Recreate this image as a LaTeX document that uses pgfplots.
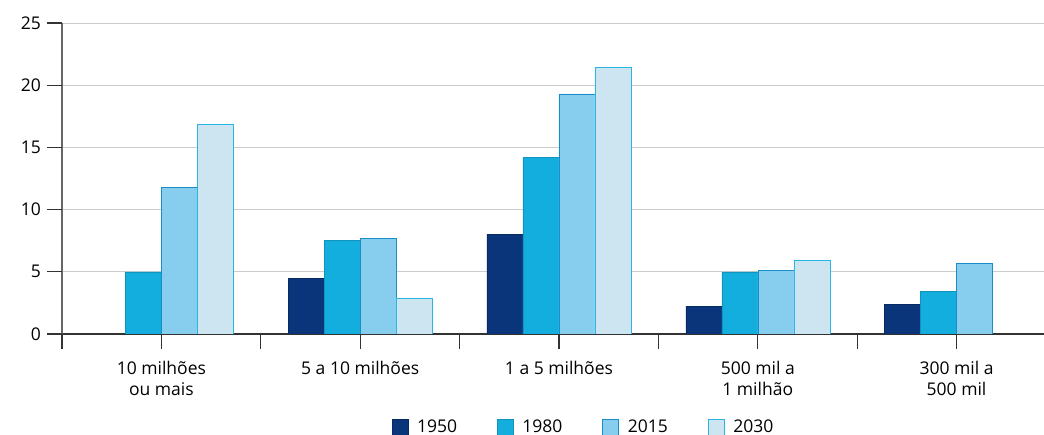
\documentclass[border=0pt]{standalone}
\usepackage{fontspec}
\setmainfont{Open Sans}
\usepackage{pgfplots}
\pgfplotsset{compat=1.18}

\definecolor{c1950}{HTML}{0A357A}
\definecolor{c1980}{HTML}{13AEDE}
\definecolor{c2015}{HTML}{87CEEE}
\definecolor{c2015e}{HTML}{1A8CC8}
\definecolor{c2030}{HTML}{CCE5F0}
\definecolor{c2030e}{HTML}{2BB5E5}

\begin{document}
\fontsize{17.5}{21}\selectfont
\begin{tikzpicture}
\useasboundingbox (-62pt,-101pt) rectangle (982pt,334pt);
\begin{axis}[
    at={(0,0)}, anchor=south west,
    scale only axis,
    width=982pt, height=311pt,
    ybar=0pt, bar width=36pt,
    xmin=-0.5, xmax=4.44,
    ymin=0, ymax=25,
    ytick={0,5,...,25},
    xtick={0,...,4},
    xticklabels={{10 milhões\\ou mais},{5 a 10 milhões},{1 a 5 milhões},{500 mil a\\1 milhão},{300 mil a\\500 mil}},
    x tick label style={align=center, font=\fontsize{17.5}{21}\selectfont, yshift=-6pt},
    extra x ticks={-0.5,0.5,1.5,2.5,3.5},
    extra x tick labels={},
    extra x tick style={grid=none},
    axis x line*=bottom, axis y line*=left,
    x axis line style={draw=black!80, line width=1.2pt, -},
    y axis line style={draw=black!60, line width=1.6pt, -},
    tick align=outside,
    major tick length=15pt,
    every tick/.style={draw=black!80, line width=1.2pt},
    ymajorgrids, grid style={draw=black!20, line width=0.8pt},
    /pgf/number format/assume math mode=true,
    yticklabel style={font=\fontsize{17.5}{21}\selectfont},
    legend style={at={(0.531,-0.3)}, anchor=center, draw=none,
        legend columns=4,
        /tikz/every odd column/.append style={column sep=7pt},
        /tikz/every even column/.append style={column sep=38pt},
        font=\fontsize{17.5}{21}\selectfont},
    legend image code/.code={\draw[#1] (0pt,-8pt) rectangle (16pt,8pt);},
]
\addplot[fill=c1950, draw=c1950!80!black] coordinates {(1,4.5) (2,8.0) (3,2.25) (4,2.4)};
\addplot[fill=c1980, draw=c1980!85!black] coordinates {(0,5.0) (1,7.55) (2,14.2) (3,5.0) (4,3.45)};
\addplot[fill=c2015, draw=c2015e] coordinates {(0,11.8) (1,7.7) (2,19.3) (3,5.1) (4,5.7)};
\addplot[fill=c2030, draw=c2030e] coordinates {(0,16.9) (1,2.9) (2,21.45) (3,5.95)};
\legend{1950,1980,2015,2030}
\end{axis}
% y tick marks, to the left of the y axis (axis height 311pt, a tick every 5 units)
\foreach \k in {0,...,5}
  \draw[black!80, line width=1.2pt] (-15pt,\k*62.2pt) -- (0pt,\k*62.2pt);
\end{tikzpicture}
\end{document}
